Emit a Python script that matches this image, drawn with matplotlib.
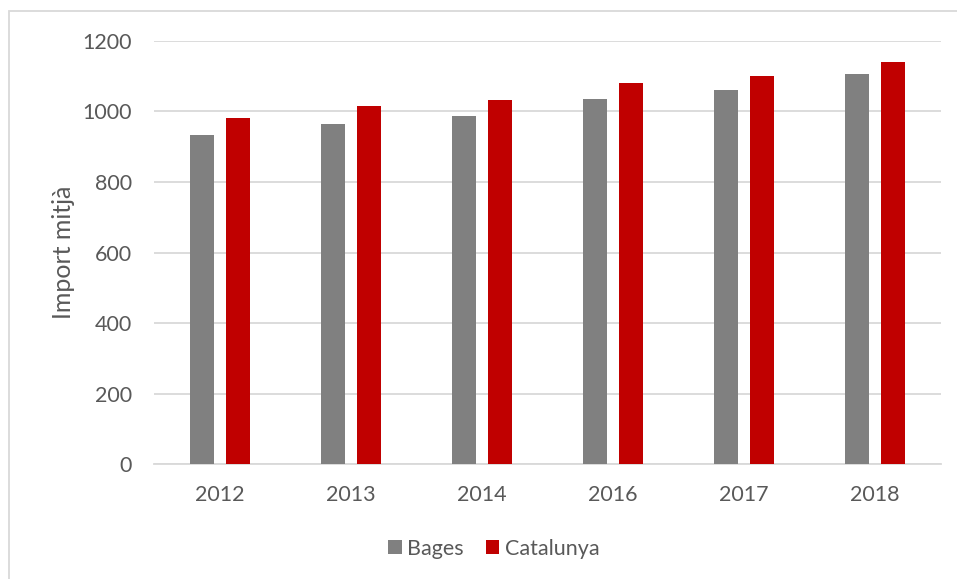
import matplotlib.pyplot as plt
import numpy as np

# data
years = ["2012", "2013", "2014", "2016", "2017", "2018"]
bages = [932, 965, 986, 1036, 1060, 1105]
catalunya = [982, 1015, 1034, 1080, 1101, 1139]
yticks = [0, 200, 400, 600, 800, 1000, 1200]

plt.rcParams['font.family'] = ['Lato', 'DejaVu Sans']
text_col = '#595959'

fig = plt.figure(figsize=(9.57, 5.79), dpi=100)
ax = fig.add_axes([0.161, 0.1986, 0.822, 0.7306])

x = np.arange(len(years))
w = 0.183
off = 0.137
ax.bar(x - off, bages, w, color='#808080', label='Bages', zorder=3)
ax.bar(x + off, catalunya, w, color='#c00000', label='Catalunya', zorder=3)

ax.set_xlim(-0.5, len(years) - 0.5)
ax.set_ylim(0, 1200)
ax.set_yticks(yticks)
ax.set_xticks(x)
ax.set_xticklabels(years)
ax.tick_params(axis='both', length=0, labelsize=15.5, colors=text_col)
ax.tick_params(axis='y', pad=16)
ax.tick_params(axis='x', pad=15)
ax.yaxis.grid(True, color='#d9d9d9', linewidth=1.3, zorder=0)
for s in ['top', 'right', 'left']:
    ax.spines[s].set_visible(False)
ax.spines['bottom'].set_color('#d9d9d9')
ax.spines['bottom'].set_linewidth(1.3)

ax.set_ylabel('Import mitjà', fontsize=18, color=text_col, labelpad=5)

ax.legend(loc='center', bbox_to_anchor=(0.516, 0.052), bbox_transform=fig.transFigure,
          ncol=2, frameon=False, fontsize=15.5, labelcolor=text_col,
          handlelength=0.63, handleheight=0.63, handletextpad=0.25, columnspacing=1.0)

# outer chart frame
fig.add_artist(plt.Rectangle((9 / 957, -0.01), 1.0, 1 - 11 / 579 + 0.01,
                             transform=fig.transFigure, fill=False,
                             edgecolor='#d9d9d9', linewidth=1.3))

fig.savefig('out.png', dpi=100)
